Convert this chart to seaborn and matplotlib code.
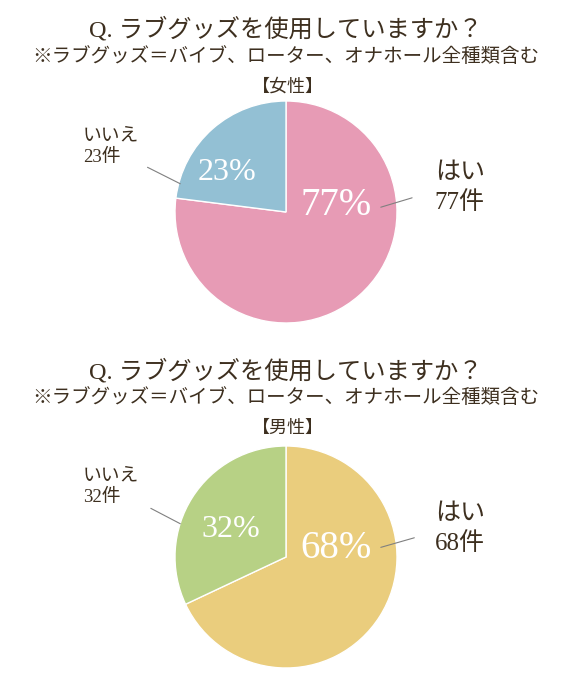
import matplotlib
matplotlib.use('Agg')
import matplotlib.pyplot as plt
import seaborn as sns

# data
categories = ['はい', 'いいえ']
female_counts = [77, 23]
male_counts = [68, 32]
groups = ['【女性】', '【男性】']
title_q = 'Q. ラブグッズを使用していますか？'
title_note = '※ラブグッズ＝バイブ、ローター、オナホール全種類含む'

female_colors = ['#e79bb5', '#93c0d4']
male_colors = ['#eacd7d', '#b7d185']

sns.set_theme(style='white')
plt.rcParams['font.family'] = ['Liberation Serif', 'Noto Sans CJK JP', 'DejaVu Sans']
txt_color = '#3d2f1f'
line_color = '#808080'

fig = plt.figure(figsize=(5.83, 6.8), dpi=100)
W, H = 583, 680
R = 111  # pie radius in px
L = 1.1


def draw_block(counts, colors, group, cy, title_y, lay):
    cx = 286
    size = 2 * L * R
    ax = fig.add_axes([(cx - size / 2) / W, (H - cy - size / 2) / H, size / W, size / H])
    total = sum(counts)
    ax.pie(counts, colors=colors, startangle=90, counterclock=False, radius=1,
           wedgeprops={'edgecolor': 'white', 'linewidth': 1})
    ax.set_xlim(-L, L)
    ax.set_ylim(-L, L)
    ax.set_aspect('equal')
    ax.axis('off')

    yes, no = counts
    # percentages inside the wedges
    ax.text(*lay['yes_pct'], f'{round(yes * 100 / total)}%', color='white',
            fontsize=28, ha='center', va='center')
    ax.text(*lay['no_pct'], f'{round(no * 100 / total)}%', color='white',
            fontsize=23, ha='center', va='center')

    # outside labels with leader lines
    ax.annotate('', xy=lay['yes_line'][0], xytext=lay['yes_line'][1],
                arrowprops=dict(arrowstyle='-', color=line_color, lw=0.8), annotation_clip=False)
    ax.text(*lay['yes_lab'], f'{categories[0]}\n{yes}件', color=txt_color,
            fontsize=18, ha='left', va='center', linespacing=1.4)

    ax.annotate('', xy=lay['no_line'][0], xytext=lay['no_line'][1],
                arrowprops=dict(arrowstyle='-', color=line_color, lw=0.8), annotation_clip=False)
    ax.text(*lay['no_lab'], f'{categories[1]}\n{no}件', color=txt_color,
            fontsize=13.5, ha='left', va='center', linespacing=1.35)

    # titles
    fig.text(286 / W, 1 - title_y[0] / H, title_q, ha='center', va='center',
             fontsize=17.5, color=txt_color)
    fig.text(286 / W, 1 - title_y[1] / H, title_note, ha='center', va='center',
             fontsize=14, color=txt_color)
    fig.text(288 / W, 1 - title_y[2] / H, group, ha='center', va='center',
             fontsize=13, color=txt_color)


female_layout = {'yes_pct': (0.45, 0.06), 'no_pct': (-0.53, 0.36),
                 'yes_line': ((0.83, 0.036), (1.16, 0.135)), 'yes_lab': (1.34, 0.22),
                 'no_line': ((-0.93, 0.243), (-1.27, 0.414)), 'no_lab': (-1.83, 0.59)}
male_layout = {'yes_pct': (0.45, 0.08), 'no_pct': (-0.50, 0.25),
               'yes_line': ((0.83, 0.08), (1.18, 0.18)), 'yes_lab': (1.34, 0.25),
               'no_line': ((-0.93, 0.288), (-1.24, 0.45)), 'no_lab': (-1.83, 0.635)}

draw_block(female_counts, female_colors, groups[0], 212, (29, 57, 87), female_layout)
draw_block(male_counts, male_colors, groups[1], 557, (371, 398, 428), male_layout)

fig.savefig('out.png', dpi=100, facecolor='white')
